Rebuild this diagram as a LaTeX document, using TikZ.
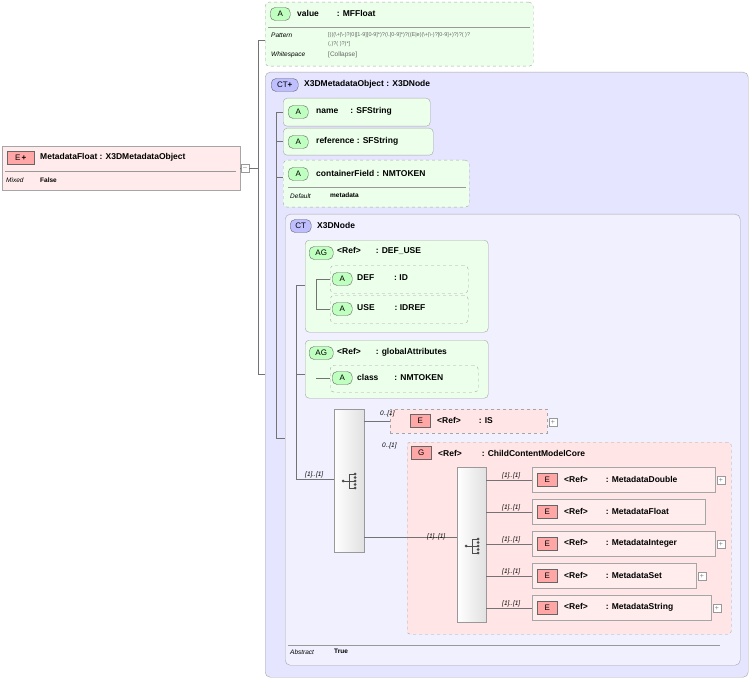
\documentclass[tikz,border=0pt]{standalone}
\usepackage{fontspec}
\setmainfont{Liberation Sans}
\begin{document}
\begin{tikzpicture}[x=1pt,y=-1pt,
  lbl/.style={font=\fontsize{8.5}{10}\selectfont\bfseries,anchor=west,inner sep=0pt},
  sm/.style={font=\fontsize{6.5}{7}\selectfont\itshape,anchor=west,inner sep=0pt},
  smv/.style={font=\fontsize{6.5}{7}\selectfont,anchor=west,inner sep=0pt,text=black!60},
  smb/.style={font=\fontsize{6.5}{7}\selectfont\bfseries,anchor=west,inner sep=0pt},
  bx/.style={draw=black!35,anchor=north west,inner sep=0pt},
  gbox/.style={bx,fill=green!8,dashed},
  gsol/.style={bx,fill=green!8},
  pbox/.style={bx,fill=red!10,dashed},
  psol/.style={bx,fill=red!7},
  vbox/.style={bx,fill=blue!10,rounded corners=5pt},
  badge/.style={draw=black!60,font=\fontsize{8}{9}\selectfont,inner sep=0pt,minimum height=13pt,anchor=west},
  bA/.style={badge,fill=green!25,rounded corners=5pt,minimum width=20pt},
  bE/.style={badge,fill=red!35,minimum width=20pt},
  bCT/.style={badge,fill=blue!25,rounded corners=5pt,minimum width=21pt},
  seq/.style={bx,draw=black!40,top color=white,bottom color=black!12,shading angle=90},
  ln/.style={draw=black!55,line width=0.5pt},
  plus/.style={draw=black!40,fill=white,minimum size=8pt,inner sep=0pt,font=\fontsize{7}{7}\selectfont,text=black!50}
]
\useasboundingbox (0,0) rectangle (752,679);

% root
\node[bx,fill=red!8,minimum width=238pt,minimum height=44pt] (root) at (2,146) {};
\node[bE,minimum width=27pt] at (7,158) {E\,\textbf{+}};
\node[lbl] at (40,157) {MetadataFloat : X3DMetadataObject};
\draw[black!40] (5,171) -- (236,171);
\node[sm] at (6,180) {Mixed}; \node[smb] at (40,180) {False};
\node[plus] (rm) at (245,168) {--};
\coordinate (trk) at (258,168);
\draw[ln] (root.east|-rm) -- (rm.west);
\draw[ln] (rm.east) -- (trk);

% value
\node[gbox,rounded corners=4pt,minimum width=268pt,minimum height=64pt] (val) at (265,2) {};
\node[bA] at (270,14) {A}; \node[lbl] at (297,13) {value\hspace{18pt}: MFFloat};
\draw[black!40] (268,27) -- (530,27);
\node[sm] at (271,35) {Pattern};
\node[smv,font=\fontsize{5.5}{6}\selectfont] at (328,35) {[((({\textbackslash}+|{\textbackslash}-)?(0|[1-9][0-9]*)?({\textbackslash}.[0-9]*)?((E|e)({\textbackslash}+|{\textbackslash}-)?[0-9]+)?)?( )?};
\node[smv,font=\fontsize{5.5}{6}\selectfont] at (328,44) {(,)?( )?)*]};
\node[sm] at (271,55) {Whitespace}; \node[smv] at (328,55) {[Collapse]};

% X3DMetadataObject
\node[vbox,minimum width=483pt,minimum height=605pt] (ct) at (265,72) {};
\node[bCT,minimum width=27pt] at (271,85) {CT\textbf{+}};
\node[lbl] at (304,84) {X3DMetadataObject : X3DNode};
\draw[ln] (trk) |- (val.west|-0,40);
\draw[ln] (trk) |- (ct.west|-0,374);

\node[gsol,rounded corners=4pt,minimum width=147pt,minimum height=28pt] (nm) at (283,98) {};
\node[bA] at (288,112) {A}; \node[lbl] at (316,111) {name\hspace{12pt}: SFString};
\node[gsol,rounded corners=4pt,minimum width=150pt,minimum height=27pt] (rf) at (283,128) {};
\node[bA] at (288,142) {A}; \node[lbl] at (316,141) {reference : SFString};
\node[gbox,rounded corners=4pt,minimum width=186pt,minimum height=47pt] (cf) at (283,160) {};
\node[bA] at (288,174) {A}; \node[lbl] at (316,173) {containerField : NMTOKEN};
\draw[black!40] (288,187) -- (466,187);
\node[sm] at (290,196) {Default}; \node[smb] at (330,195) {metadata};

% X3DNode
\node[vbox,fill=blue!6,minimum width=455pt,minimum height=451pt] (xn) at (285,214) {};
\node[bCT] at (290,226) {CT}; \node[lbl] at (317,225) {X3DNode};
\coordinate (t2) at (276,112);
\draw[ln] (t2) -- (nm.west|-t2);
\draw[ln] (276,112) -- (276,438);
\draw[ln] (276,141) -- (rf.west|-0,141);
\draw[ln] (276,177) -- (cf.west|-0,177);
\draw[ln] (276,438) -- (xn.west|-0,438);

\node[gsol,rounded corners=4pt,minimum width=183pt,minimum height=92pt] (ag1) at (305,240) {};
\node[bA,minimum width=24pt] at (309,253) {AG}; \node[lbl] at (337,251) {<Ref>\hspace{15pt}: DEF\_USE};
\node[gbox,rounded corners=4pt,minimum width=138pt,minimum height=28pt] (def) at (330,265) {};
\node[bA] at (332,279) {A}; \node[lbl] at (357,278) {DEF\hspace{20pt}: ID};
\node[gbox,rounded corners=4pt,minimum width=138pt,minimum height=28pt] (use) at (330,295) {};
\node[bA] at (332,309) {A}; \node[lbl] at (357,308) {USE\hspace{20pt}: IDREF};
\draw[ln] (316,279) -- (def.west|-0,279);
\draw[ln] (316,279) -- (316,309) -- (use.west|-0,309);

\node[gsol,rounded corners=4pt,minimum width=183pt,minimum height=58pt] (ag2) at (305,340) {};
\node[bA,minimum width=24pt] at (309,353) {AG}; \node[lbl] at (337,352) {<Ref>\hspace{15pt}: globalAttributes};
\node[gbox,rounded corners=4pt,minimum width=148pt,minimum height=27pt] (cls) at (330,365) {};
\node[bA] at (332,378) {A}; \node[lbl] at (357,377) {class\hspace{16pt}: NMTOKEN};
\draw[ln] (316,378) -- (cls.west|-0,378);
\draw[ln] (296,285) -- (ag1.west|-0,285);
\draw[ln] (296,285) -- (296,479);
\draw[ln] (296,374) -- (ag2.west|-0,374);

% sequence 1
\node[seq,minimum width=30pt,minimum height=143pt] (s1) at (334,409) {};
\draw[ln] (296,479) -- (s1.west|-0,479);
\node[sm] at (305,475) {[1]..[1]};
\fill[black!70] (343,481) circle (1.5pt);
\draw[black!70,line width=0.8pt] (343,481) -- (349,481) (349,474) -- (349,488) (349,474) -- (355,474) (349,481)--(355,481) (349,488)--(355,488);
\foreach \yy in {474,477.5,481,484.5,488} \fill[black!70] (355,\yy) circle (1.5pt);

\node[pbox,minimum width=157pt,minimum height=24pt] (is) at (390,409) {};
\node[bE] at (410,421) {E}; \node[lbl] at (437,420) {<Ref>\hspace{18pt}: IS};
\node[plus] at (553,422) {+};
\draw[ln] (s1.east|-0,421) -- (is.west|-0,421);
\node[sm] at (380,414) {0..[1]};

\node[pbox,rounded corners=3pt,minimum width=324pt,minimum height=192pt] (g) at (407,442) {};
\node[bE] at (411,453) {G}; \node[lbl] at (438,453) {<Ref>\hspace{20pt}: ChildContentModelCore};
\node[sm] at (382,446) {0..[1]};
\draw[ln] (s1.east|-0,537) -- (g.west|-0,537);

\node[seq,minimum width=29pt,minimum height=155pt] (s2) at (457,467) {};
\draw[ln] (g.west|-0,537) -- (s2.west|-0,537);
\node[sm] at (427,537) {[1]..[1]};
\fill[black!70] (466,546) circle (1.5pt);
\draw[black!70,line width=0.8pt] (466,546) -- (472,546) (472,539) -- (472,553) (472,539) -- (478,539) (472,546)--(478,546) (472,553)--(478,553);
\foreach \yy in {539,542.5,546,549.5,553} \fill[black!70] (478,\yy) circle (1.5pt);

\foreach \n/\t/\y/\w/\p in {d/MetadataDouble/467/183/1, f/MetadataFloat/499/173/0, i/MetadataInteger/531/183/1, s/MetadataSet/563/164/1, st/MetadataString/595/179/1}{
  \node[psol,minimum width=\w pt,minimum height=25pt] (\n) at (532,\y) {};
  \node[bE] at (537,\y+13) {E};
  \node[lbl] at (564,\y+12) {<Ref>\hspace{18pt}: \t};
  \draw[ln] (s2.east|-0,\y+13) -- (\n.west|-0,\y+13);
  \node[sm] at (502,\y+9) {[1]..[1]};
  \ifnum\p=1 \node[plus] at (532+\w+6,\y+13) {+}; \fi
}

\draw[black!40] (288,645) -- (720,645);
\node[sm] at (290,652) {Abstract}; \node[smb] at (334,651) {True};
\end{tikzpicture}
\end{document}
